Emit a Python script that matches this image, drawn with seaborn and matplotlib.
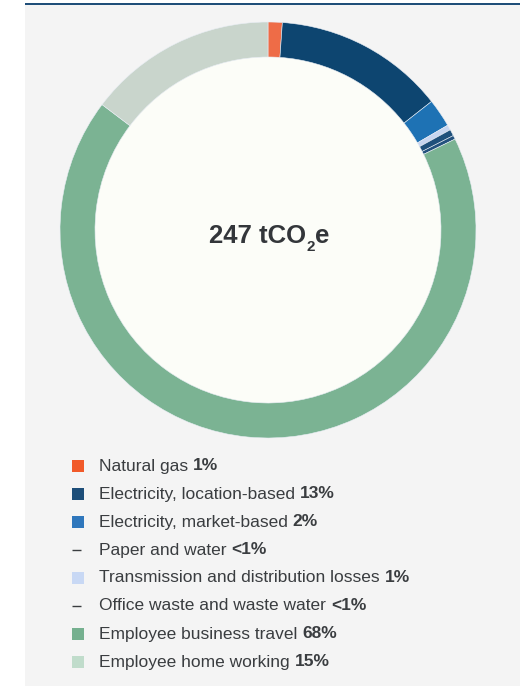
import matplotlib
matplotlib.use("Agg")
import matplotlib.pyplot as plt
from matplotlib.patches import Rectangle, Circle
import seaborn as sns

sns.set_theme(style="white")
plt.rcParams["font.family"] = ["Liberation Sans", "DejaVu Sans"]

# ---- data (share of 247 tCO2e, clockwise from 12 o'clock) ----
slice_names = ["Natural gas", "Electricity, location-based", "Electricity, market-based",
               "Transmission and distribution losses", "Paper and water",
               "Office waste and waste water", "Employee business travel",
               "Employee home working"]
slice_values = [1.1, 13.3, 2.2, 0.4, 0.5, 0.3, 67.5, 14.7]
slice_colors = ["#ee6c47", "#0d4570", "#1e72b4", "#c8d6f0", "#1f507b",
                "#24527e", "#7bb393", "#c9d5cc"]

legend_names = ["Natural gas", "Electricity, location-based", "Electricity, market-based",
                "Paper and water", "Transmission and distribution losses",
                "Office waste and waste water", "Employee business travel",
                "Employee home working"]
legend_pcts = ["1%", "13%", "2%", "<1%", "1%", "<1%", "68%", "15%"]
legend_colors = ["#f15a29", "#1d4e79", "#2f77bc", None, "#c8d8f4", None,
                 "#75b08f", "#c0dccb"]

W, H = 520, 686
fig = plt.figure(figsize=(W / 100, H / 100), dpi=100)
fig.patch.set_facecolor("white")

# grey panel with dark rule on top
fig.patches.append(Rectangle((25 / W, 0), 1 - 25 / W, 1 - 3 / H, transform=fig.transFigure,
                             facecolor="#f4f4f4", edgecolor="none", zorder=-10))
fig.patches.append(Rectangle((25 / W, 1 - 4.5 / H), 1 - 25 / W, 2 / H, transform=fig.transFigure,
                             facecolor="#1f4e79", edgecolor="none", zorder=-9))

# donut
cx, cy, R = 268, 230, 210
ax = fig.add_axes([(cx - R) / W, (H - cy - R) / H, 2 * R / W, 2 * R / H])
ax.patch.set_alpha(0)
outer = 208 / R
ring = 35 / R
ax.pie(slice_values, colors=slice_colors, startangle=90, counterclock=False,
       radius=outer, normalize=True,
       wedgeprops=dict(width=ring, edgecolor="#e9eef5", linewidth=0.4))
ax.add_patch(Circle((0, 0), outer - ring, facecolor="#fcfdf8", edgecolor="none", zorder=0))
ax.set_xlim(-1, 1)
ax.set_ylim(-1, 1)
ax.axis("off")

# centre label, subscript drawn a little lower and smaller
t1 = ax.text(-0.28, -0.03, "247 tCO", ha="left", va="center", fontsize=18.5,
             fontweight="bold", color="#33363a")
ax.annotate("2", xy=(1, 0), xycoords=t1, xytext=(0.3, -4), textcoords="offset points",
            ha="left", va="bottom", fontsize=11, fontweight="bold", color="#33363a")
ax.annotate("e", xy=(1, 0), xycoords=t1, xytext=(6.6, 0), textcoords="offset points",
            ha="left", va="bottom", fontsize=18.5, fontweight="bold", color="#33363a")

# legend
lax = fig.add_axes([0, 0, 1, 1])
lax.set_xlim(0, W)
lax.set_ylim(H, 0)
lax.axis("off")
lax.patch.set_alpha(0)
row0, step = 466, 28
for i, (name, pct, col) in enumerate(zip(legend_names, legend_pcts, legend_colors)):
    y = row0 + i * step
    if col is None:
        lax.plot([72, 81], [y, y], color="#3a3d40", lw=1.0, solid_capstyle="butt")
    else:
        lax.add_patch(Rectangle((72, y - 6), 12, 12, facecolor=col, edgecolor="none"))
    t = lax.text(99, y, name + " ", ha="left", va="center", fontsize=12.5, color="#3a3d40")
    lax.annotate(pct, xy=(1, 0.5), xycoords=t, ha="left", va="center",
                 fontsize=12.5, fontweight="bold", color="#3a3d40")

fig.savefig("out.png", dpi=100)
